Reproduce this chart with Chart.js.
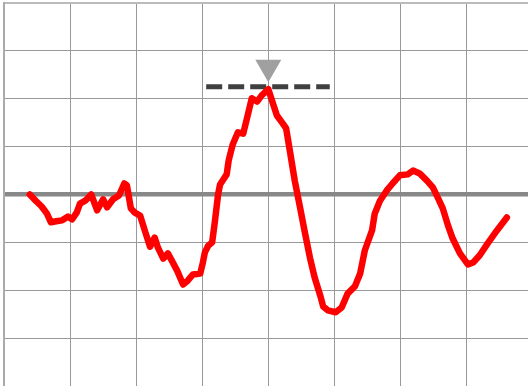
<!DOCTYPE html>
<html>
<head>
<meta charset="utf-8">
<script src="https://cdn.jsdelivr.net/npm/chart.js@4"></script>
<style>
  html, body { margin: 0; padding: 0; background: #ffffff; }
  #wrap { width: 528px; height: 386px; }
</style>
</head>
<body>
<div id="wrap"><canvas id="c" width="528" height="386"></canvas></div>
<script>
// Signal trace (x in time units, y in signal units)
const traceX = [3.9, 4.8, 5.7, 6.5, 7.1, 7.9, 8.8, 9.7, 10.3, 11.0, 11.5, 12.3, 13.2, 14.1, 15.0, 15.6, 16.5, 17.4, 18.2, 18.6,
  19.2, 19.8, 20.6, 21.3, 22.1, 22.8, 23.3, 24.1, 24.8, 25.4, 26.2, 27.1, 27.8, 28.6, 29.7, 30.1, 30.4, 30.9, 31.5, 31.9,
  32.4, 32.7, 33.7, 34.0, 34.6, 35.4, 36.2, 36.8, 37.5, 38.3, 39.0, 40.0, 40.7, 41.3, 42.2, 42.7, 43.3, 44.0, 44.8, 45.5,
  46.3, 47.0, 47.9, 48.3, 49.0, 50.2, 51.1, 52.0, 53.1, 53.9, 54.6, 55.7, 56.1, 56.9, 57.9, 58.8, 59.9, 61.1, 61.9, 62.9,
  64.0, 64.9, 65.7, 66.4, 67.2, 67.9, 69.0, 70.2, 71.0, 72.0, 73.2, 74.6, 76.1];
const traceY = [0.0, -1.3, -2.5, -4.0, -5.8, -5.6, -5.4, -4.6, -5.2, -3.8, -1.9, -1.3, 0.0, -3.3, -1.0, -2.7, -1.0, -0.2, 2.3, 1.9,
  -2.9, -3.8, -4.4, -7.5, -10.9, -9.0, -11.1, -13.4, -12.3, -13.8, -15.9, -18.8, -18.0, -16.7, -16.5, -14.2, -12.1, -10.7, -10.0, -5.8,
  0.0, 2.1, 4.2, 7.1, 10.4, 13.0, 12.7, 16.1, 20.1, 19.4, 20.7, 22.0, 19.0, 16.5, 14.8, 13.8, 8.8, 2.9, -2.7, -7.7,
  -13.2, -17.3, -21.3, -23.4, -24.2, -24.6, -23.6, -20.7, -19.2, -16.5, -11.7, -7.5, -4.0, -1.3, 0.8, 2.3, 4.0, 4.2, 5.0, 4.4,
  2.9, 1.5, -0.8, -2.9, -6.5, -9.2, -12.3, -14.6, -14.2, -12.7, -10.2, -7.5, -4.8];

// Reference level (dashed) and peak marker
const levelX = [30.6, 49.3];
const levelY = 22.5;
const peakX = [40];
const peakMarkerY = [26.6];

// Axis extents and grid steps
const xMin = 0, xMax = 79.3, xStep = 10;
const yMin = -40, yMax = 40, yStep = 10;

const tracePoints = traceX.map((x, i) => ({ x, y: traceY[i] }));
const levelPoints = levelX.map(x => ({ x, y: levelY }));
const markerPoints = peakX.map((x, i) => ({ x, y: peakMarkerY[i] }));

new Chart(document.getElementById('c'), {
  type: 'line',
  data: {
    datasets: [
      {
        data: markerPoints,
        showLine: false,
        pointStyle: 'triangle',
        rotation: 180,
        pointRadius: 15,
        pointBackgroundColor: '#a0a0a0',
        pointBorderColor: '#a0a0a0',
        pointBorderWidth: 0,
        clip: false,
        order: 0
      },
      {
        data: tracePoints,
        borderColor: '#ff0000',
        borderWidth: 6.5,
        pointRadius: 0,
        tension: 0,
        borderJoinStyle: 'round',
        borderCapStyle: 'round',
        fill: false,
        order: 1
      },
      {
        data: levelPoints,
        borderColor: '#404040',
        borderWidth: 5,
        borderDash: [16, 6],
        borderCapStyle: 'butt',
        pointRadius: 0,
        fill: false,
        order: 2
      }
    ]
  },
  options: {
    responsive: false,
    animation: false,
    layout: { autoPadding: false, padding: { left: 4, top: 3, right: 0, bottom: 0 } },
    plugins: { legend: { display: false }, tooltip: { enabled: false } },
    scales: {
      x: {
        type: 'linear',
        min: xMin,
        max: xMax,
        ticks: { display: false, stepSize: xStep, includeBounds: false },
        grid: { color: '#999999', lineWidth: 1, drawTicks: false },
        border: { display: false }
      },
      y: {
        type: 'linear',
        min: yMin,
        max: yMax,
        ticks: { display: false, stepSize: yStep },
        grid: {
          drawTicks: false,
          color: ctx => ctx.tick && ctx.tick.value === 0 ? '#888888' : (ctx.tick && ctx.tick.value === yMax ? '#bbbbbb' : '#999999'),
          lineWidth: ctx => ctx.tick && ctx.tick.value === 0 ? 4.5 : (ctx.tick && ctx.tick.value === yMax ? 2 : 1)
        },
        border: { display: true, color: '#aaaaaa', width: 2 }
      }
    }
  }
});
</script>
</body>
</html>
